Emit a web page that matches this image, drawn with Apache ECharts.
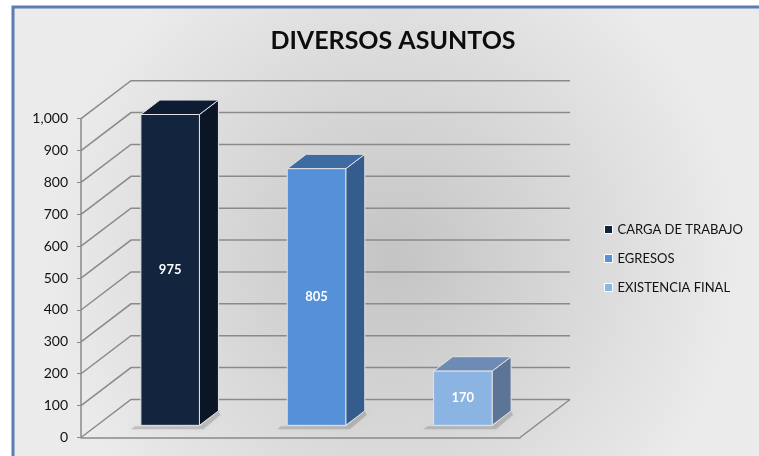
<!DOCTYPE html>
<html>
<head>
<meta charset="utf-8">
<script src="https://cdn.jsdelivr.net/npm/echarts@6/dist/echarts.min.js"></script>
<style>
    html, body { margin: 0; padding: 0; background: #fff; }
    #chart { width: 759px; height: 456px; }
</style>
</head>
<body>
<div id="chart"></div>
<script>
const categories = ['CARGA DE TRABAJO', 'EGRESOS', 'EXISTENCIA FINAL'];
const values     = [975, 805, 170];
const yTicks     = [0, 100, 200, 300, 400, 500, 600, 700, 800, 900, 1000];

// front / side / top colours per bar
const faceColors = [
    ['#12243e', '#0a1526', '#0d1c33'],
    ['#5590d8', '#345c8c', '#3f6ba3'],
    ['#8cb4e3', '#5c7596', '#6d8bb4']
];

// depth of the floor in pixels
const DX = 50, DY = -38;

document.addEventListener('DOMContentLoaded', () => {

    const chart = echarts.init(document.getElementById('chart'));

    function renderWalls(params, api) {
        const cs = params.coordSys;
        const v  = api.value(0);
        const y  = api.coord([0, v])[1];
        const x0 = cs.x, w = cs.width;
        const lineStyle = { stroke: '#8a8a8a', lineWidth: 1.5, fill: null };
        const children = [{
            type: 'polyline',
            shape: { points: [[x0, y], [x0 + DX, y + DY], [x0 + DX + w, y + DY]] },
            style: lineStyle
        }];
        if (v === 0) {
            children.push({
                type: 'line',
                shape: { x1: x0 + w, y1: y, x2: x0 + w + DX, y2: y + DY },
                style: lineStyle
            });
        }
        return { type: 'group', children: children };
    }

    function makeBarRender(idx) {
        return function (params, api) {
            const i    = api.value(0);
            const v    = api.value(1);
            const base = api.coord([i, 0]);
            const top  = api.coord([i, v]);
            const bw   = api.size([1, 0])[0] * 0.4;
            const sx = DX * 0.32, sy = DY * 0.32;     // front face sits inside the floor
            const ddx = DX * 0.38, ddy = DY * 0.38;   // bar depth
            const xl = base[0] - bw / 2 + sx, xr = base[0] + bw / 2 + sx;
            const yb = base[1] + sy, yt = top[1] + sy;
            const c = faceColors[idx];
            const edge = { stroke: '#e2e2e2', lineWidth: 1 };
            return {
                type: 'group',
                children: [
                    { type: 'polygon', shape: { points: [[xl - 6, yb + 1], [xr, yb + 1], [xr + ddx, yb + ddy], [xr + ddx + 2, yb + ddy + 4], [xr + 4, yb + 4], [xl - 10, yb + 4]] },
                      style: { fill: 'rgba(0,0,0,0.15)', shadowBlur: 4, shadowColor: 'rgba(0,0,0,0.25)' } },
                    { type: 'polygon', shape: { points: [[xr, yb], [xr + ddx, yb + ddy], [xr + ddx, yt + ddy], [xr, yt]] },
                      style: Object.assign({ fill: c[1] }, edge) },
                    { type: 'polygon', shape: { points: [[xl, yt], [xr, yt], [xr + ddx, yt + ddy], [xl + ddx, yt + ddy]] },
                      style: Object.assign({ fill: c[2] }, edge) },
                    { type: 'rect', shape: { x: xl, y: yt, width: xr - xl, height: yb - yt },
                      style: Object.assign({ fill: c[0] }, edge) },
                    { type: 'text', x: (xl + xr) / 2, y: (yt + yb) / 2,
                      style: { text: String(v), fill: '#fff', font: 'bold 13px Lato', align: 'center', verticalAlign: 'middle' } }
                ]
            };
        };
    }

    const barSeries = categories.map((name, idx) => ({
        name: name,
        type: 'custom',
        renderItem: makeBarRender(idx),
        itemStyle: { color: faceColors[idx][0] },
        data: [[idx, values[idx]]],
        z: 3
    }));

    const option = {
        animation: false,
        graphic: [
            { type: 'rect', shape: { x: 13, y: 7, width: 760, height: 460 }, z: -10,
              style: { fill: new echarts.graphic.RadialGradient(0.5, 0.55, 0.75, [
                  { offset: 0, color: '#c4c4c4' },
                  { offset: 1, color: '#ebebeb' }
              ]), stroke: '#5a7db5', lineWidth: 3 } }
        ],
        title: {
            text: 'DIVERSOS ASUNTOS',
            left: 388, top: 23, textAlign: 'center',
            textStyle: { fontFamily: 'Lato', fontWeight: 'bold', fontSize: 25, color: '#0d0d0d' }
        },
        legend: {
            orient: 'vertical',
            left: 599, top: 218,
            itemWidth: 8, itemHeight: 8, itemGap: 16,
            icon: 'rect',
            itemStyle: { borderColor: '#ffffff', borderWidth: 1 },
            textStyle: { fontFamily: 'Lato', fontSize: 13, color: '#111' },
            data: categories
        },
        grid: { left: 81, right: 239, top: 118.7, bottom: 18.5 },
        xAxis: {
            type: 'category',
            data: categories,
            axisLine: { show: true, lineStyle: { color: '#8a8a8a', width: 1.5 } },
            axisTick: { show: false },
            axisLabel: { show: false },
            splitLine: { show: false }
        },
        yAxis: {
            type: 'value', min: 0, max: 1000, interval: 100,
            axisLine: { show: true, lineStyle: { color: '#8a8a8a', width: 1.5 } },
            axisTick: { show: true, length: 4, lineStyle: { color: '#8a8a8a' } },
            axisLabel: { fontFamily: 'Lato', fontSize: 14, color: '#111', margin: 13,
                         formatter: (v) => v.toLocaleString('en-US') },
            splitLine: { show: false }
        },
        series: [{
            type: 'custom',
            renderItem: renderWalls,
            data: yTicks.map(v => [v]),
            silent: true,
            z: 1
        }].concat(barSeries)
    };

    chart.setOption(option);
});
</script>
</body>
</html>
